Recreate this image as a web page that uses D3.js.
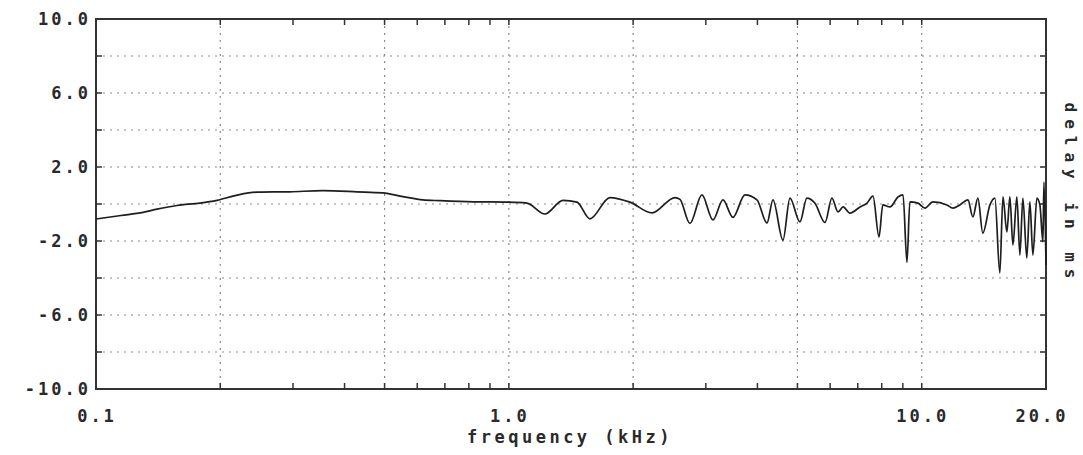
<!DOCTYPE html>
<html>
<head>
<meta charset="utf-8">
<script src="https://cdn.jsdelivr.net/npm/d3@7"></script>
<style>
  html, body { margin: 0; padding: 0; background: #ffffff; }
  svg { display: block; }
  .lbl { font-family: "DejaVu Sans Mono", monospace; font-weight: bold; fill: #2a2a2a; }
</style>
</head>
<body>
<svg id="chart" width="1083" height="455"></svg>
<script>
// ---- data (frequency in kHz, group delay in ms) ----
const freqKHz = [
  0.1, 0.115, 0.13, 0.1405, 0.157, 0.1786, 0.1964, 0.2196, 0.2455, 0.295,
  0.3546, 0.4287, 0.4955, 0.554, 0.619, 0.681, 0.819, 1.0, 1.106, 1.223,
  1.352, 1.462, 1.572, 1.757, 1.965, 2.222, 2.526, 2.597, 2.745, 2.935,
  3.121, 3.300, 3.489, 3.731, 3.99, 4.219, 4.362, 4.612, 4.796, 5.07,
  5.27, 5.51, 5.83, 6.06, 6.27, 6.45, 6.70, 7.09, 7.37, 7.62,
  7.88, 8.05, 8.38, 8.76, 9.01, 9.21, 9.36, 9.79, 10.18, 10.64,
  11.51, 11.90, 12.37, 12.94, 13.30, 13.68, 14.06, 14.63, 15.04, 15.46,
  15.73, 16.08, 16.35, 16.63, 17.00, 17.29, 17.58, 17.97, 18.28, 18.59,
  19.01, 19.33, 19.66, 19.77, 20.0
];
const delayMs = [
  -0.81, -0.62, -0.45, -0.28, -0.08, 0.05, 0.20, 0.48, 0.64, 0.66,
  0.72, 0.66, 0.60, 0.40, 0.22, 0.18, 0.12, 0.10, 0.05, -0.54,
  0.20, 0.10, -0.80, 0.35, 0.10, -0.48, 0.35, 0.25, -1.05, 0.49,
  -0.86, 0.22, -0.72, 0.49, 0.22, -1.03, 0.22, -1.95, 0.32, -0.97,
  0.32, 0.05, -1.00, 0.32, -0.43, -0.16, -0.49, -0.16, 0.05, 0.43,
  -1.78, -0.05, -0.16, 0.38, 0.49, -3.16, 0.11, 0.05, -0.22, 0.11,
  -0.05, -0.22, -0.05, 0.22, -0.70, 0.32, -1.57, -0.05, 0.32, -3.73,
  0.38, -1.51, 0.38, -2.22, 0.38, -2.76, 0.32, -2.92, 0.11, -2.76,
  0.32, -0.05, -2.05, 1.19, -3.30
];

// ---- axis definitions ----
const xDomain = [0.1, 20];
const yDomain = [-10, 10];
const xTickLabels = [0.1, 1.0, 10.0, 20.0];
const xGridValues = [0.2, 0.5, 1, 2, 5, 10];
const xMinorTicks = [0.2,0.3,0.4,0.5,0.6,0.7,0.8,0.9,1,2,3,4,5,6,7,8,9,10];
const yTickLabels = [-10, -6, -2, 2, 6, 10];
const yGridValues = [-8, -6, -4, -2, 0, 2, 4, 6, 8];
const xTitle = "frequency (kHz)";
const yTitle = "delay in ms";

// ---- layout ----
const L = 96, T = 19, R = 1046, B = 389;
const svg = d3.select("#chart");
const x = d3.scaleLog().domain(xDomain).range([L, R]);
const y = d3.scaleLinear().domain(yDomain).range([B, T]);

// grid
const grid = svg.append("g").attr("stroke", "#8a8a8a").attr("stroke-width", 1.2)
  .attr("stroke-dasharray", "2,5").attr("fill", "none");
grid.selectAll("line.h").data(yGridValues).join("line")
  .attr("x1", L).attr("x2", R).attr("y1", d => y(d)).attr("y2", d => y(d));
grid.selectAll("line.v").data(xGridValues).join("line")
  .attr("y1", T).attr("y2", B).attr("x1", d => x(d)).attr("x2", d => x(d));

// inward ticks
const tickLen = 6;
const ticks = svg.append("g").attr("stroke", "#333").attr("stroke-width", 1.5);
ticks.selectAll("line.xb").data(xMinorTicks).join("line")
  .attr("x1", d => x(d)).attr("x2", d => x(d)).attr("y1", B).attr("y2", B - tickLen);
ticks.selectAll("line.xt").data(xMinorTicks).join("line")
  .attr("x1", d => x(d)).attr("x2", d => x(d)).attr("y1", T).attr("y2", T + tickLen);
ticks.selectAll("line.yl").data(yGridValues).join("line")
  .attr("x1", L).attr("x2", L + tickLen).attr("y1", d => y(d)).attr("y2", d => y(d));
ticks.selectAll("line.yr").data(yGridValues).join("line")
  .attr("x1", R).attr("x2", R - tickLen).attr("y1", d => y(d)).attr("y2", d => y(d));

// frame
svg.append("rect").attr("x", L).attr("y", T).attr("width", R - L).attr("height", B - T)
  .attr("fill", "none").attr("stroke", "#333").attr("stroke-width", 2);

// curve
const pts = freqKHz.map((f, i) => [f, delayMs[i]]);
svg.append("path").datum(pts)
  .attr("fill", "none").attr("stroke", "#1e1e1e").attr("stroke-width", 1.7)
  .attr("stroke-linejoin", "round")
  .attr("d", d3.line().curve(d3.curveMonotoneX).x(d => x(d[0])).y(d => y(d[1])));

// y labels
svg.selectAll("text.yl").data(yTickLabels).join("text")
  .attr("class", "lbl").attr("font-size", 17).attr("letter-spacing", 3)
  .attr("text-anchor", "end").attr("x", 91).attr("y", d => y(d) + 6)
  .text(d => d.toFixed(1));

// x labels
svg.selectAll("text.xl").data(xTickLabels).join("text")
  .attr("class", "lbl").attr("font-size", 17).attr("letter-spacing", 3)
  .attr("text-anchor", "middle")
  .attr("x", d => x(d) + (d === 20 ? -4 : 1)).attr("y", 422)
  .text(d => d.toFixed(1));

// titles
svg.append("text").attr("class", "lbl").attr("font-size", 17).attr("letter-spacing", 3.5)
  .attr("text-anchor", "middle").attr("x", 570).attr("y", 443).text(xTitle);
svg.append("text").attr("class", "lbl").attr("font-size", 16).attr("letter-spacing", 7)
  .attr("text-anchor", "middle")
  .attr("transform", "translate(1065,194) rotate(90)").text(yTitle);
</script>
</body>
</html>
